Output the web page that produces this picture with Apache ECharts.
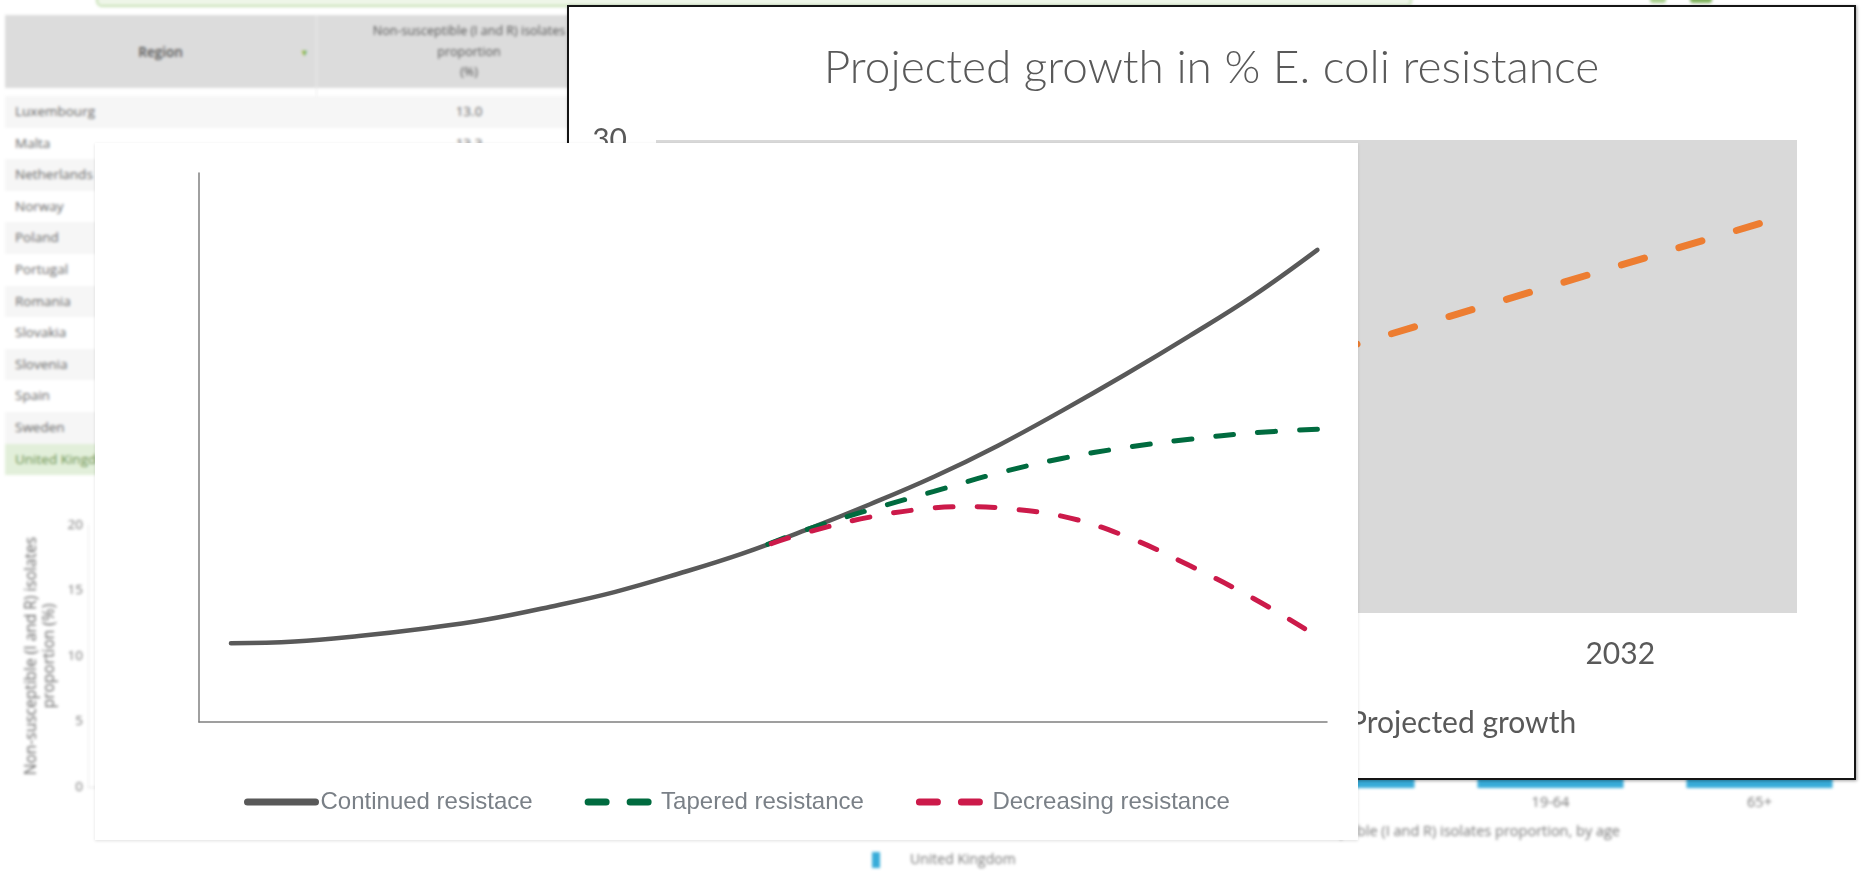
<!DOCTYPE html>
<html>
<head>
<meta charset="utf-8">
<script src="https://cdn.jsdelivr.net/npm/echarts@6/dist/echarts.min.js"></script>
<style>
html, body { margin: 0; padding: 0; width: 1866px; height: 875px; overflow: hidden; background: #ffffff; }
#bg { position: absolute; left: 0; top: 0; width: 1866px; height: 875px; filter: blur(1.4px); z-index: 1; }
#bgChart { position: absolute; left: 0; top: 0; width: 1866px; height: 875px; }
.cell { position: absolute; font-family: 'Open Sans', sans-serif; font-size: 13.5px; color: #666; white-space: nowrap; }
#win { position: absolute; left: 567px; top: 5px; width: 1289px; height: 775px; box-sizing: border-box; border: 2px solid #151515; background: #fff; z-index: 2; box-shadow: 1px 1px 3px rgba(0,0,0,0.35); }
#winChart { position: absolute; left: 569px; top: 7px; width: 1285px; height: 771px; z-index: 3; }
#panel { position: absolute; left: 95px; top: 143px; width: 1263px; height: 697px; background: #fff; z-index: 4; box-shadow: 0 1px 3px rgba(0,0,0,0.12); }
#main { position: absolute; left: 95px; top: 143px; width: 1263px; height: 697px; z-index: 5; }
</style>
</head>
<body>
<div id="bg"><div id="bgChart"></div></div>
<div id="win"></div>
<div id="winChart"></div>
<div id="panel"></div>
<div id="main"></div>
<script>
// ---------- foreground chart data ----------
const seriesNames = ['Continued resistace', 'Tapered resistance', 'Decreasing resistance'];
const contYears  = [2016, 2018, 2020, 2022, 2024, 2026, 2028, 2030, 2032, 2034, 2036, 2038, 2040, 2042, 2044, 2046, 2048, 2050];
const contValues = [4.3, 4.4, 4.7, 5.1, 5.6, 6.3, 7.1, 8.1, 9.2, 10.5, 11.9, 13.4, 15.1, 17.0, 19.0, 21.1, 23.3, 25.8];
const taperYears  = [2032.5, 2034, 2036, 2038, 2040, 2042, 2044, 2046, 2048, 2050];
const taperValues = [9.5, 10.5, 11.6, 12.6, 13.6, 14.4, 15.0, 15.45, 15.8, 16.0];
const decYears  = [2032.5, 2034, 2036, 2038, 2039, 2040, 2042, 2044, 2046, 2048, 2049.6];
const decValues = [9.5, 10.35, 11.2, 11.7, 11.77, 11.7, 11.25, 10.15, 8.55, 6.75, 5.1];

// ---------- background window chart data ----------
const windowTitle = 'Projected growth in % E. coli resistance';
const projName = 'Projected growth';
const projYears  = [2027, 2032.9];
const projValues = [6.8, 24.8];
const projLabelYear = 2032;

// ---------- blurred dashboard behind ----------
const regions = ['Luxembourg', 'Malta', 'Netherlands', 'Norway', 'Poland', 'Portugal', 'Romania', 'Slovakia', 'Slovenia', 'Spain', 'Sweden', 'United Kingdom'];
const regionValues = ['13.0', '13.3'];
const headerRegion = 'Region';
const headerValue = ['Non-susceptible (I and R) isolates', 'proportion', '(%)'];
const ageGroups = ['0-18', '19-64', '65+'];
const ageValues = [12.5, 13.5, 16.0];
const bgLegendName = 'United Kingdom';
const bgYName = 'Non-susceptible (I and R) isolates\nproportion (%)';
const ageAxisTitle = 'Non-susceptible (I and R) isolates proportion, by age';

const zip = (xs, ys) => xs.map((x, i) => [x, ys[i]]);

// ---------- build blurred table ----------
(function buildTable() {
  const bg = document.getElementById('bg');
  const add = (html, css) => { const d = document.createElement('div'); d.className = 'cell'; d.innerHTML = html; Object.assign(d.style, css); bg.appendChild(d); return d; };
  add('', { left: '96px', top: '-30px', width: '1312px', height: '33px', border: '2px solid #c6e0b4', borderRadius: '6px', background: '#eef6e8' });
  add('', { left: '1650px', top: '-8px', width: '16px', height: '11px', borderRadius: '3px', background: '#a9d08e' });
  add('', { left: '1690px', top: '-8px', width: '22px', height: '11px', borderRadius: '3px', background: '#7fb25c' });
  add('', { left: '5px', top: '15px', width: '620px', height: '73px', background: '#dcdcdc' });
  add(headerRegion, { left: '5px', top: '43px', width: '311px', textAlign: 'center', color: '#555', fontWeight: '600' });
  add('&#9660;', { left: '300px', top: '46px', fontSize: '9px', color: '#7cb342' });
  add('', { left: '316px', top: '15px', width: '1px', height: '400px', background: '#ececec' });
  headerValue.forEach((t, i) => add(t, { left: '316px', top: (22 + i * 20.5) + 'px', width: '306px', textAlign: 'center', fontSize: '12.5px', color: '#555' }));
  regions.forEach((r, i) => {
    const top = 96 + i * 31.6;
    const isUK = i === regions.length - 1;
    add('', { left: '5px', top: top + 'px', width: '620px', height: '31.6px', background: isUK ? '#e2efda' : (i % 2 === 0 ? '#f6f6f6' : '#ffffff') });
    add(r, { left: '15px', top: (top + 6) + 'px', color: isUK ? '#6b8f4e' : '#666' });
    if (regionValues[i]) add(regionValues[i], { left: '316px', top: (top + 6) + 'px', width: '306px', textAlign: 'center' });
  });
})();

// ---------- background chart (blurred) ----------
const bgChart = echarts.init(document.getElementById('bgChart'), null, { renderer: 'canvas' });
bgChart.setOption({
  animation: false,
  textStyle: { fontFamily: 'Open Sans' },
  title: { text: ageAxisTitle, right: 246, top: 823, padding: 0, textStyle: { fontSize: 14.5, lineHeight: 18, fontWeight: 'normal', color: '#777', fontFamily: 'Open Sans' } },
  legend: { data: [bgLegendName], left: 872, top: 852, padding: 0, icon: 'rect', itemWidth: 8, itemHeight: 16, itemGap: 8,
    textStyle: { fontSize: 14, color: '#777', padding: [0, 0, 0, 25] } },
  grid: [
    { left: 88, top: 525, bottom: 88, width: 900 },
    { left: 1237, top: 525, bottom: 87, right: 2 }
  ],
  xAxis: [
    { gridIndex: 0, type: 'category', data: [''], axisLine: { lineStyle: { color: '#e3e3e3' } }, axisTick: { show: false }, axisLabel: { show: false } },
    { gridIndex: 1, type: 'category', data: ageGroups, axisLine: { show: false }, axisTick: { show: false }, axisLabel: { color: '#777', fontSize: 14.5, margin: 7 } }
  ],
  yAxis: [
    { gridIndex: 0, type: 'value', min: 0, max: 20, interval: 5, axisLine: { show: true, lineStyle: { color: '#ececec' } }, splitLine: { show: false },
      axisLabel: { color: '#777', fontSize: 13.5, margin: 5 },
      name: bgYName, nameLocation: 'middle', nameGap: 29, nameRotate: 90, nameTextStyle: { color: '#666', fontSize: 15.5, lineHeight: 18 } },
    { gridIndex: 1, type: 'value', min: 0, max: 20, interval: 5, show: false }
  ],
  series: [
    { name: bgLegendName, type: 'bar', xAxisIndex: 1, yAxisIndex: 1, data: ageValues, barWidth: 146, itemStyle: { color: '#38acd9' } }
  ]
});

// ---------- window chart ----------
const winChart = echarts.init(document.getElementById('winChart'), null, { renderer: 'canvas' });
winChart.setOption({
  animation: false,
  textStyle: { fontFamily: 'Lato' },
  title: { text: windowTitle, left: 'center', top: 33, textStyle: { fontSize: 46, fontWeight: 300, color: '#595959', fontFamily: 'Lato' } },
  legend: { data: [projName], left: 724, top: 701, padding: 0, itemWidth: 50, itemHeight: 10, textStyle: { fontSize: 30, color: '#595959', fontFamily: 'Lato' } },
  grid: { left: 87, top: 133, right: 57, bottom: 165, show: true, backgroundColor: '#d9d9d9', borderWidth: 0 },
  xAxis: { type: 'value', min: 2026, max: 2033.1, interval: 1, axisLine: { show: false }, axisTick: { show: false }, splitLine: { show: false },
    axisLabel: { fontSize: 30, color: '#595959', margin: 26, formatter: v => (v === projLabelYear ? String(v) : '') } },
  yAxis: { type: 'value', min: 0, max: 30, interval: 5, axisLine: { show: false }, axisTick: { show: false }, splitLine: { show: false },
    axisLabel: { fontSize: 30, color: '#595959', margin: 29 } },
  series: [
    { name: projName, type: 'line', data: zip(projYears, projValues), symbol: 'none',
      lineStyle: { color: '#ED7D31', width: 7, type: [24, 36], cap: 'round' } }
  ]
});

// ---------- foreground chart ----------
const main = echarts.init(document.getElementById('main'), null, { renderer: 'canvas' });
const colors = ['#595959', '#006b3f', '#cc1a4a'];
const dash = [18, 24];
main.setOption({
  animation: false,
  legend: {
    left: 149, top: 647, padding: 0, itemWidth: 68, itemHeight: 10, itemGap: 52,
    itemStyle: { opacity: 0 },
    textStyle: { fontSize: 24, color: '#7a8087', fontFamily: 'Liberation Sans' },
    data: [
      { name: seriesNames[0], lineStyle: { width: 7, cap: 'round' }, itemStyle: { opacity: 0 } },
      { name: seriesNames[1], lineStyle: { width: 7, type: [18, 24], cap: 'round' }, itemStyle: { opacity: 0 } },
      { name: seriesNames[2], lineStyle: { width: 7, type: [18, 24], cap: 'round' }, itemStyle: { opacity: 0 } }
    ]
  },
  grid: { left: 104, top: 30, right: 31, bottom: 118 },
  xAxis: { type: 'value', min: 2015, max: 2050.3, axisLine: { show: true, lineStyle: { color: '#808080', width: 1.5 } },
    axisTick: { show: false }, axisLabel: { show: false }, splitLine: { show: false } },
  yAxis: { type: 'value', min: 0, max: 30, axisLine: { show: true, lineStyle: { color: '#808080', width: 1.5 } },
    axisTick: { show: false }, axisLabel: { show: false }, splitLine: { show: false } },
  series: [
    { name: seriesNames[0], type: 'line', smooth: 0.4, symbol: 'none', data: zip(contYears, contValues),
      lineStyle: { color: colors[0], width: 4.5, cap: 'round' }, itemStyle: { color: colors[0] } },
    // dashed scenarios are drawn from their end backwards so each ends on a full dash
    { name: seriesNames[1], type: 'line', smooth: 0.4, symbol: 'none', data: zip(taperYears, taperValues).reverse(),
      lineStyle: { color: colors[1], width: 5, type: dash, cap: 'round' }, itemStyle: { color: colors[1] } },
    { name: seriesNames[2], type: 'line', smooth: 0.4, symbol: 'none', data: zip(decYears, decValues).reverse(),
      lineStyle: { color: colors[2], width: 5, type: dash, cap: 'round' }, itemStyle: { color: colors[2] } }
  ]
});
</script>
</body>
</html>
